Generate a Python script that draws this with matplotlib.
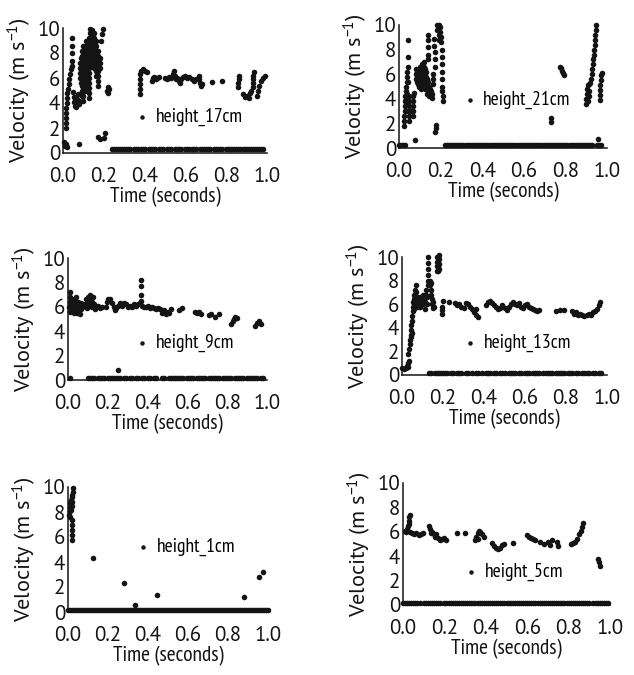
import matplotlib
matplotlib.use('Agg')
import matplotlib.pyplot as plt

# ---- data: (time s, velocity m/s) ----
pts17 = [(0.005,0.9),(0.01,0.6),(0.015,0.7),(0.02,0.5),(0.08,0.7),
    (0.015,2.0),(0.015,2.4),(0.016,2.8),(0.017,3.2),(0.017,3.6),(0.018,4.0),(0.019,4.4),(0.02,4.8),(0.023,5.1),
    (0.027,5.5),(0.031,5.9),(0.035,6.3),(0.039,6.7),(0.043,7.0),
    (0.045,9.2),(0.045,8.6),(0.045,8.0),(0.045,7.4),
    (0.05,4.9),(0.052,4.5),(0.055,4.1),(0.058,3.8),(0.062,3.7),(0.066,3.9),(0.07,4.3),(0.073,4.7),(0.077,4.2),(0.08,3.9),
    (0.085,6.0),(0.085,6.4),(0.085,6.8),(0.085,7.2),(0.088,5.6),(0.088,7.6),
    (0.093,4.6),(0.093,5.0),(0.093,5.4),(0.093,5.8),(0.093,6.2),(0.093,6.6),(0.093,7.0),(0.093,7.4),(0.093,7.8),(0.093,8.2),
    (0.1,4.2),(0.1,4.6),(0.1,5.0),(0.1,5.4),(0.1,5.8),(0.1,6.2),(0.1,6.6),(0.1,7.0),(0.1,7.4),(0.1,7.8),(0.1,8.2),(0.1,8.6),
    (0.108,5.0),(0.108,5.4),(0.108,5.8),(0.108,6.2),(0.108,6.6),(0.108,7.0),(0.108,7.4),(0.108,7.8),(0.108,8.2),
    (0.115,5.8),(0.115,6.2),(0.115,6.6),(0.115,7.0),(0.115,7.4),(0.115,7.8),(0.115,8.2),(0.115,8.6),(0.115,9.0),
    (0.127,4.4),(0.127,4.8),(0.127,5.2),(0.127,5.6),(0.127,6.0),(0.127,6.4),(0.127,6.8),(0.127,7.2),(0.127,7.6),
    (0.127,8.0),(0.127,8.4),(0.127,8.8),(0.127,9.2),(0.13,9.6),(0.133,9.9),
    (0.138,7.0),(0.138,7.4),(0.138,7.8),(0.138,8.2),(0.138,8.6),(0.138,9.0),(0.138,9.4),(0.14,9.8),
    (0.15,6.8),(0.15,7.2),(0.15,7.6),(0.15,8.0),(0.15,8.4),(0.15,8.8),(0.15,9.2),(0.152,9.6),
    (0.16,6.2),(0.16,6.6),(0.16,7.0),(0.16,7.4),(0.16,7.8),(0.16,8.2),(0.16,8.6),(0.16,9.0),
    (0.17,5.4),(0.17,5.8),(0.17,6.2),(0.17,6.6),(0.17,7.0),(0.17,7.4),(0.17,7.8),(0.17,8.2),
    (0.18,6.8),(0.18,7.2),(0.18,7.6),(0.185,9.0),(0.19,9.5),(0.195,9.9),
    (0.17,1.3),(0.18,1.1),(0.2,1.2),(0.205,1.6),
    (0.215,5.0),(0.22,4.8),(0.225,5.1),(0.22,5.3),
    (0.375,4.7),(0.375,5.1),(0.376,5.5),(0.377,5.9),(0.378,6.3),(0.38,6.6),(0.39,6.7),(0.40,6.6),(0.41,6.5),
    (0.435,5.8),(0.44,6.0),(0.445,6.1),(0.45,6.0),(0.455,5.9),(0.46,6.0),(0.47,6.1),
    (0.5,6.0),(0.51,5.9),(0.52,6.1),(0.53,6.0),
    (0.54,6.3),(0.545,6.6),(0.55,6.2),(0.555,5.9),(0.56,6.0),(0.57,5.8),(0.575,5.6),(0.58,5.9),(0.59,6.1),
    (0.6,6.2),(0.61,6.0),(0.62,6.1),(0.63,5.9),(0.64,5.8),(0.65,5.9),
    (0.665,6.2),(0.668,5.9),(0.672,5.6),(0.676,5.4),(0.68,5.5),
    (0.73,5.7),(0.78,5.8),
    (0.86,5.3),(0.86,5.6),(0.861,5.9),(0.862,6.2),
    (0.88,4.7),(0.89,4.5),(0.9,4.6),(0.91,4.4),(0.915,4.8),(0.92,5.0),
    (0.93,5.3),(0.931,5.6),(0.932,5.9),(0.933,6.2),(0.935,6.5),
    (0.95,4.6),(0.955,5.0),(0.96,5.4),(0.97,5.8),(0.98,6.0),(0.99,6.2)]
base17 = [0.24,0.25,0.26,0.27,0.28,0.29,0.30,0.31,0.32,0.33,0.35,0.36,0.37,0.38,0.39,0.40,0.42,0.43,0.44,0.45,
    0.47,0.48,0.49,0.51,0.52,0.53,0.55,0.56,0.57,0.58,0.60,0.61,0.62,0.63,0.64,0.65,0.67,0.68,0.69,0.70,0.71,0.72,
    0.74,0.75,0.76,0.77,0.78,0.80,0.81,0.82,0.83,0.84,0.85,0.86,0.87,0.88,0.89,0.90,0.91,0.92,0.93,0.94,0.95,0.96,
    0.97,0.98]
level17 = 0.3

pts21 = [(0.025,1.8),(0.025,2.2),(0.026,2.6),(0.027,3.0),(0.028,3.4),(0.03,3.8),(0.03,4.2),(0.032,4.6),(0.035,5.0),
    (0.038,5.4),(0.04,5.8),(0.04,6.2),(0.035,3.0),(0.035,3.5),(0.035,4.0),(0.04,4.4),
    (0.045,8.8),(0.045,7.4),(0.045,6.6),(0.045,5.4),
    (0.048,2.2),(0.048,2.6),(0.048,3.0),(0.048,3.4),(0.048,3.8),(0.048,4.2),(0.055,3.0),(0.062,3.0),
    (0.068,2.6),(0.068,3.0),(0.068,3.4),(0.068,3.8),(0.068,4.2),(0.07,4.5),
    (0.077,0.65),
    (0.08,6.4),(0.08,6.0),(0.08,5.6),(0.085,6.2),(0.085,5.8),(0.085,5.4),(0.09,6.0),(0.09,5.6),(0.09,5.2),
    (0.095,5.8),(0.095,5.4),(0.095,5.0),
    (0.1,6.6),(0.1,6.2),(0.1,5.8),(0.1,5.4),(0.1,5.0),(0.105,6.0),(0.105,5.6),(0.105,5.2),(0.105,4.8),
    (0.11,6.8),(0.11,6.4),(0.11,6.0),(0.11,5.6),(0.11,5.2),(0.115,6.6),(0.115,6.2),(0.115,5.8),(0.115,5.4),(0.115,5.0),
    (0.12,7.0),(0.12,6.6),(0.12,6.2),(0.12,5.8),(0.12,5.4),(0.12,5.0),(0.125,6.4),(0.125,6.0),(0.125,5.6),(0.125,5.2),
    (0.125,4.8),(0.13,6.2),(0.13,5.8),(0.13,5.4),(0.13,5.0),(0.135,5.6),(0.135,5.2),(0.135,4.8),(0.135,4.4),
    (0.14,5.4),(0.14,5.0),(0.14,4.6),(0.145,5.0),(0.145,4.6),(0.145,4.2),(0.15,4.8),(0.15,4.4),(0.155,4.6),(0.155,4.2),
    (0.16,4.4),(0.16,4.1),
    (0.14,9.2),(0.14,8.8),(0.14,8.2),(0.14,7.6),(0.14,7.2),
    (0.168,8.9),(0.17,8.3),(0.172,7.8),(0.175,7.2),(0.175,6.6),(0.165,6.0),(0.165,5.6),(0.165,5.2),
    (0.185,10.0),(0.185,9.6),(0.19,9.2),(0.19,8.8),(0.195,9.8),(0.195,9.4),(0.2,9.0),(0.2,8.6),(0.19,10.0),
    (0.205,8.0),(0.205,7.4),(0.205,6.8),(0.205,6.2),(0.208,5.6),(0.208,5.0),(0.208,4.6),(0.21,4.2),(0.21,3.8),
    (0.175,1.3),(0.176,1.6),(0.177,1.9),
    (0.73,2.1),(0.732,2.4),
    (0.775,6.6),(0.78,6.5),(0.785,6.3),(0.79,6.1),(0.795,5.9),
    (0.9,3.6),(0.9,4.0),(0.902,4.4),(0.905,4.8),(0.91,5.1),(0.915,5.2),(0.92,5.3),(0.925,5.6),(0.928,6.0),(0.93,6.4),
    (0.932,6.8),(0.934,7.2),(0.936,7.6),(0.938,8.0),(0.94,8.4),(0.942,8.8),(0.944,9.2),(0.946,9.6),(0.948,10.0),
    (0.91,3.8),(0.912,4.2),(0.915,4.6),
    (0.965,3.9),(0.966,4.3),(0.967,4.7),(0.968,5.1),(0.97,5.5),(0.972,5.9),(0.975,6.1),
    (0.955,0.7)]
base21 = [0.00,0.01,0.02,0.03,0.22,0.23,0.24,0.25,0.26,0.27,0.28,0.29,0.30,0.31,0.32,0.33,0.34,0.35,0.36,0.37,0.38,
    0.39,0.40,0.41,0.42,0.43,0.44,0.45,0.46,0.47,0.48,0.49,0.50,0.51,0.52,0.53,0.54,0.55,0.56,0.57,0.58,0.59,0.60,
    0.61,0.62,0.63,0.64,0.65,0.66,0.67,0.68,0.69,0.70,0.71,0.72,0.73,0.74,0.75,0.76,0.77,0.78,0.79,0.80,0.81,0.82,
    0.83,0.84,0.85,0.86,0.87,0.88,0.89,0.90,0.91,0.92,0.93,0.95,0.96,0.97]
level21 = 0.25

pts9 = [(0.005,6.0),(0.008,6.4),(0.01,6.8),(0.012,7.2),(0.015,6.2),(0.02,5.8),(0.025,6.3),(0.03,6.1),(0.035,5.7),
    (0.04,6.4),(0.045,6.0),(0.05,5.6),(0.055,6.2),(0.06,5.9),(0.065,6.3),(0.01,5.6),(0.02,6.6),(0.03,5.5),
    (0.04,6.8),(0.05,6.4),(0.06,5.4),(0.07,6.0),(0.015,6.6),(0.035,6.5),(0.045,5.5),(0.065,5.8),
    (0.085,6.2),(0.09,6.6),(0.095,5.9),(0.1,6.8),(0.105,6.3),(0.11,7.0),(0.115,6.5),(0.12,6.0),(0.125,6.8),
    (0.13,6.2),(0.135,5.8),(0.09,6.0),(0.1,6.3),(0.11,6.1),(0.12,6.4),
    (0.14,6.0),(0.15,6.1),(0.16,5.9),(0.17,6.0),
    (0.19,6.0),(0.195,6.4),(0.2,6.6),(0.21,6.6),(0.22,6.3),(0.23,6.0),(0.235,5.7),(0.24,5.9),
    (0.25,6.1),(0.26,6.3),(0.27,6.1),(0.28,6.3),(0.29,6.2),(0.3,6.0),(0.31,6.1),(0.32,6.0),
    (0.33,6.2),(0.34,6.1),(0.35,6.2),(0.36,6.3),(0.37,6.1),(0.38,6.0),(0.39,6.0),(0.4,6.1),
    (0.367,7.0),(0.367,7.7),(0.367,8.2),(0.367,6.5),
    (0.41,5.9),(0.42,6.0),(0.43,5.9),(0.44,5.8),(0.45,5.9),(0.46,5.8),
    (0.47,5.5),(0.48,5.7),(0.49,5.4),(0.5,5.6),(0.51,5.5),(0.52,5.8),
    (0.56,5.7),(0.575,5.9),
    (0.64,5.6),(0.65,5.5),(0.66,5.6),(0.67,5.4),
    (0.71,5.3),(0.72,5.4),(0.74,5.2),(0.76,5.4),
    (0.82,4.6),(0.83,4.8),(0.835,5.0),(0.84,5.2),(0.85,5.1),
    (0.94,4.4),(0.95,4.7),(0.96,4.8),(0.97,4.6),
    (0.25,0.85)]
base9 = [0.01,0.10,0.11,0.12,0.13,0.15,0.16,0.17,0.18,0.20,0.21,0.22,0.23,0.24,0.25,0.26,0.28,0.29,0.31,0.32,0.34,
    0.35,0.37,0.38,0.40,0.41,0.43,0.44,0.47,0.48,0.51,0.52,0.53,0.54,0.55,0.56,0.57,0.58,0.60,0.61,0.62,0.63,0.65,
    0.66,0.67,0.68,0.69,0.71,0.72,0.73,0.74,0.75,0.76,0.78,0.79,0.80,0.81,0.82,0.84,0.85,0.86,0.87,0.88,0.90,0.91,
    0.92,0.93,0.94,0.95,0.97,0.98]
level9 = 0.2

pts13 = [(0.0,0.6),(0.01,0.5),(0.02,0.6),(0.025,0.8),(0.03,1.0),(0.035,1.2),(0.03,0.7),
    (0.03,1.8),(0.032,2.2),
    (0.04,2.6),(0.04,3.0),(0.042,3.4),(0.044,3.8),(0.046,4.2),(0.048,4.6),(0.05,5.0),(0.052,5.4),(0.055,5.8),
    (0.045,3.2),(0.047,3.6),
    (0.055,6.2),(0.06,5.6),(0.06,6.0),(0.06,6.4),(0.06,6.8),(0.065,7.2),(0.065,6.6),(0.07,7.6),(0.07,7.0),(0.07,6.2),
    (0.075,6.0),(0.075,6.6),(0.08,5.8),(0.08,6.2),(0.085,6.4),(0.085,6.0),(0.09,5.8),(0.09,6.6),(0.095,6.2),
    (0.1,6.0),(0.1,6.8),(0.105,6.4),(0.11,5.6),(0.11,6.2),(0.115,6.8),(0.115,7.2),(0.12,6.0),(0.12,6.6),
    (0.125,10.0),(0.125,9.5),(0.125,9.0),(0.127,8.5),(0.127,8.0),(0.127,7.6),
    (0.135,8.0),(0.135,7.6),(0.14,7.2),(0.14,6.8),(0.145,6.4),(0.145,6.0),(0.15,5.7),(0.15,6.2),(0.155,5.8),(0.14,7.8),
    (0.17,8.8),(0.17,9.2),(0.17,9.6),(0.17,10.0),(0.175,8.8),(0.175,9.2),(0.175,9.6),(0.175,10.0),
    (0.18,9.0),(0.18,9.4),(0.18,9.8),(0.18,10.2),
    (0.195,5.2),(0.195,5.5),(0.197,5.8),(0.2,6.3),
    (0.23,6.2),(0.26,6.1),(0.27,5.9),(0.28,6.0),(0.29,5.8),(0.3,5.7),(0.31,6.1),(0.32,6.0),(0.33,5.8),(0.34,5.6),
    (0.35,5.3),(0.36,5.1),(0.37,4.9),(0.36,5.6),
    (0.41,5.9),(0.42,6.2),(0.43,6.3),(0.44,6.1),(0.45,5.9),(0.46,5.8),(0.47,5.6),(0.48,5.7),(0.49,5.9),(0.5,5.7),
    (0.51,5.5),(0.52,5.8),
    (0.53,6.0),(0.54,6.2),(0.55,6.0),(0.56,5.9),(0.57,6.1),(0.58,5.8),
    (0.59,5.7),(0.6,5.9),(0.61,6.0),(0.62,5.8),(0.63,5.7),(0.64,5.6),(0.65,5.5),(0.66,5.4),(0.67,5.5),
    (0.75,5.4),(0.77,5.5),(0.79,5.5),
    (0.83,5.4),(0.84,5.2),(0.85,5.3),(0.86,5.1),(0.87,5.2),(0.88,5.1),(0.89,5.0),(0.9,5.1),(0.91,5.2),(0.92,5.1),
    (0.93,5.3),(0.94,5.4),(0.95,5.6),(0.96,5.9),(0.965,6.2)]
base13 = [0.13,0.14,0.16,0.17,0.18,0.19,0.20,0.21,0.22,0.24,0.25,0.27,0.28,0.29,0.31,0.32,0.34,0.36,0.37,0.39,0.41,
    0.42,0.43,0.45,0.46,0.48,0.49,0.50,0.52,0.53,0.54,0.55,0.57,0.58,0.60,0.61,0.62,0.64,0.65,0.66,0.67,0.69,0.70,
    0.71,0.72,0.73,0.75,0.76,0.77,0.78,0.79,0.81,0.82,0.83,0.85,0.86,0.88,0.89,0.90,0.91,0.93,0.94,0.96,0.97]
level13 = 0.2

pts1 = [(0.005,7.8),(0.008,8.1),(0.01,8.4),(0.012,8.7),(0.015,9.0),(0.018,9.2),(0.02,8.8),(0.022,8.5),(0.01,7.6),
    (0.015,8.2),(0.02,9.4),(0.025,9.9),(0.025,9.6),(0.022,7.4),(0.022,7.0),(0.022,6.6),(0.022,6.2),(0.022,5.8),
    (0.125,4.3),(0.28,2.3),(0.335,0.6),(0.445,1.4),(0.88,1.2),(0.957,2.8),(0.973,3.2)]
base1 = [0.00,0.01,0.02,0.03,0.04,0.05,0.06,0.07,0.08,0.09,0.10,0.11,0.12,0.13,0.14,0.15,0.16,0.17,0.18,0.19,0.20,
    0.21,0.22,0.23,0.24,0.25,0.26,0.27,0.28,0.29,0.30,0.31,0.32,0.33,0.34,0.35,0.36,0.37,0.38,0.39,0.40,0.41,0.42,
    0.43,0.44,0.45,0.46,0.47,0.48,0.49,0.50,0.51,0.52,0.53,0.54,0.55,0.56,0.57,0.58,0.59,0.60,0.61,0.62,0.63,0.64,
    0.65,0.66,0.67,0.68,0.69,0.70,0.71,0.72,0.73,0.74,0.75,0.76,0.77,0.78,0.79,0.80,0.81,0.82,0.83,0.84,0.85,0.86,
    0.87,0.88,0.89,0.90,0.91,0.92,0.93,0.94,0.95,0.96,0.97,0.98,0.99,1.00]
level1 = 0.15

pts5 = [(0.01,6.1),(0.015,6.0),(0.02,6.2),(0.025,6.5),(0.028,6.9),(0.03,7.2),(0.032,7.4),(0.03,6.6),
    (0.035,6.0),(0.045,5.9),(0.055,5.8),(0.065,5.9),(0.075,5.7),(0.085,5.8),(0.095,5.9),
    (0.125,6.5),(0.13,6.2),(0.135,5.9),(0.14,6.0),(0.15,5.8),(0.155,5.6),(0.16,5.8),
    (0.17,5.5),(0.18,5.3),(0.19,5.4),(0.2,5.5),(0.21,5.3),
    (0.26,5.9),(0.3,5.9),
    (0.35,5.3),(0.355,5.6),(0.36,5.9),(0.365,6.1),(0.37,6.0),(0.38,5.8),(0.39,5.6),(0.36,5.4),
    (0.43,5.1),(0.44,4.8),(0.45,4.7),(0.46,4.6),(0.47,4.7),(0.48,4.9),(0.49,5.0),
    (0.53,5.1),
    (0.6,5.7),(0.61,5.6),(0.62,5.5),(0.63,5.4),(0.64,5.3),
    (0.66,5.2),(0.68,5.0),(0.7,5.2),(0.72,5.3),(0.71,4.9),
    (0.745,5.2),(0.75,4.8),
    (0.81,5.0),(0.82,5.1),(0.83,5.2),(0.84,5.4),(0.85,5.8),(0.86,6.1),(0.865,6.4),(0.87,6.7),
    (0.94,3.8),(0.945,3.5),(0.95,3.2)]
base5 = [0.00,0.01,0.02,0.03,0.04,0.05,0.06,0.07,0.08,0.10,0.11,0.12,0.13,0.14,0.15,0.16,0.17,0.18,0.20,0.21,0.22,
    0.23,0.24,0.25,0.26,0.27,0.28,0.29,0.30,0.31,0.32,0.33,0.34,0.35,0.36,0.37,0.38,0.39,0.40,0.41,0.42,0.43,0.44,
    0.45,0.46,0.47,0.48,0.49,0.50,0.51,0.52,0.53,0.54,0.55,0.56,0.57,0.58,0.59,0.60,0.61,0.62,0.63,0.64,0.65,0.66,
    0.67,0.68,0.69,0.70,0.71,0.72,0.73,0.74,0.75,0.76,0.77,0.78,0.79,0.80,0.81,0.82,0.83,0.84,0.85,0.86,0.87,0.88,
    0.89,0.90,0.92,0.93,0.94,0.95,0.96,0.97,0.98,0.99]
level5 = 0.15

labels = ['height_17cm', 'height_21cm', 'height_9cm', 'height_13cm', 'height_1cm', 'height_5cm']
xticks = [0.0, 0.2, 0.4, 0.6, 0.8, 1.0]
xtickLabels = ['0.0', '0.2', '0.4', '0.6', '0.8', '1.0']
yticks = [0, 2, 4, 6, 8, 10]

# ---- layout ----
W, H = 634, 675
# axes boxes in pixels: left, x at t=1, y at v=0, y at v=10
boxes = [(63, 267, 153, 28), (399, 607, 148, 25),
         (68, 267, 380, 258), (402, 607, 375, 257),
         (68, 268, 612, 487), (403, 610, 605, 483)]
legendPos = [(0.361, 0.288), (0.311, 0.39), (0.345, 0.303),
             (0.305, 0.271), (0.348, 0.52), (0.302, 0.27)]

mainFont = ['PT Sans', 'DejaVu Sans']
narrowFont = ['PT Sans Narrow', 'DejaVu Sans']
plt.rcParams['font.family'] = mainFont
plt.rcParams['mathtext.default'] = 'regular'

ink = '#141414'


def drawPanel(fig, box, pts, base, level, label, legPos):
    x0, x1, y0, y10 = box
    ax = fig.add_axes([x0 / W, 1 - y0 / H, (x1 - x0) / W, (y0 - y10) / H])
    t = [p[0] for p in pts]
    v = [p[1] for p in pts]
    ax.scatter(t, v, s=16, c=ink, linewidths=0, clip_on=False, label=label)
    ax.scatter(base, [level] * len(base), s=16, c=ink, linewidths=0, clip_on=False)
    ax.set_xlim(0, 1.0)
    ax.set_ylim(0, 10)
    ax.set_xticks(xticks)
    ax.set_xticklabels(xtickLabels)
    ax.set_yticks(yticks)
    for side in ['top', 'right']:
        ax.spines[side].set_visible(False)
    for side in ['left', 'bottom']:
        ax.spines[side].set_linewidth(1.1)
        ax.spines[side].set_color(ink)
    ax.tick_params(axis='x', length=0, pad=10, labelsize=15, colors=ink)
    ax.tick_params(axis='y', length=0, pad=2, labelsize=15, colors=ink)
    ax.set_xlabel('Time (seconds)', fontsize=15.5, family=narrowFont, labelpad=1, color=ink)
    ax.set_ylabel('Velocity (m s$^{-1}$)', fontsize=16, labelpad=3, color=ink)
    ax.legend(loc='center left', bbox_to_anchor=legPos, frameon=False, borderpad=0, borderaxespad=0,
              handlelength=0.6, handletextpad=0.4, scatterpoints=1, markerscale=0.8,
              prop={'family': narrowFont, 'size': 14})
    return ax


fig = plt.figure(figsize=(W / 100, H / 100), dpi=100)
allPts = [pts17, pts21, pts9, pts13, pts1, pts5]
allBase = [base17, base21, base9, base13, base1, base5]
allLevel = [level17, level21, level9, level13, level1, level5]
for i in range(6):
    drawPanel(fig, boxes[i], allPts[i], allBase[i], allLevel[i], labels[i], legendPos[i])

fig.savefig('out.png', dpi=100)
